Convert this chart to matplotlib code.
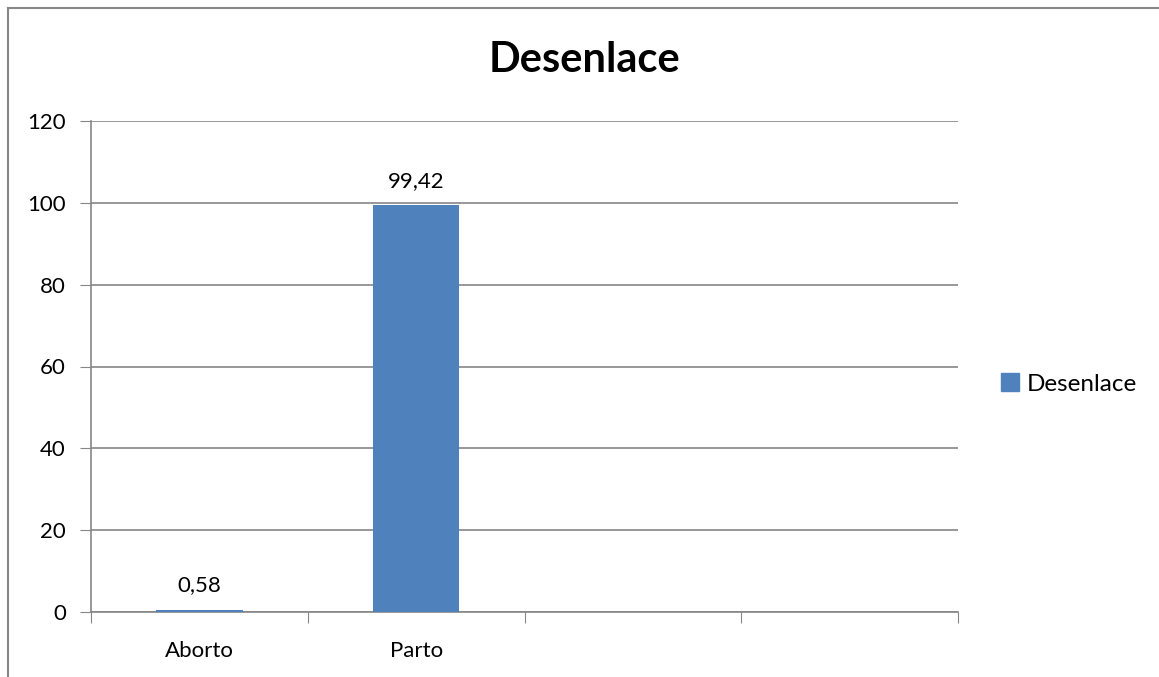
import matplotlib
matplotlib.use("Agg")
import matplotlib.pyplot as plt
from matplotlib.lines import Line2D
from matplotlib.patches import Patch

categories = ["Aborto", "Parto", "", ""]
values = [0.58, 99.42, None, None]
labels = ["0,58", "99,42"]
yticks = [0, 20, 40, 60, 80, 100, 120]

plt.rcParams['font.family'] = ['Lato', 'DejaVu Sans']

W, H = 1159, 677
fig = plt.figure(figsize=(W/100, H/100), dpi=100)
ax = fig.add_axes([91/W, 1-612/H, (958-91)/W, (612-121)/H])

grid_c = '#868686'
bar_c = '#4F81BD'
fs = 16

xs = list(range(len(categories)))
for i, v in enumerate(values):
    if v is not None:
        ax.bar(i, v, width=0.4, color=bar_c, zorder=3)
        ax.text(i, v + 3.5, labels[i], ha='center', va='bottom', fontsize=fs)

ax.set_xlim(-0.5, len(categories) - 0.5)
ax.set_ylim(0, 120)
ax.set_yticks(yticks)
ax.set_yticklabels([str(t) for t in yticks], fontsize=fs)
ax.set_xticks([x - 0.5 for x in xs] + [len(categories) - 0.5])
ax.set_xticklabels([])
ax.set_xticks(xs, minor=True)
ax.set_xticklabels(categories, minor=True, fontsize=fs)
ax.tick_params(axis='x', which='minor', length=0, pad=21)
ax.tick_params(axis='x', which='major', length=8, color=grid_c, direction='out')
ax.tick_params(axis='y', length=8, color=grid_c, direction='out', pad=10)
ax.grid(axis='y', color=grid_c, linewidth=1.2, zorder=0)
for s in ['top', 'right']:
    ax.spines[s].set_visible(False)
ax.spines['left'].set_color(grid_c)
ax.spines['bottom'].set_color(grid_c)
ax.spines['left'].set_linewidth(1.2)
ax.spines['bottom'].set_linewidth(1.2)

fig.text(585/W, 1-60/H, "Desenlace", ha='center', va='center', fontsize=30, fontweight='bold')

leg = fig.legend(handles=[Patch(color=bar_c, label="Desenlace")], loc='center left',
                 bbox_to_anchor=(1001/W, 1-384/H), frameon=False, fontsize=17.5,
                 handlelength=0.75, handleheight=0.75, handletextpad=0.3,
                 borderaxespad=0, borderpad=0)

# outer chart border (partially visible)
fig.add_artist(Line2D([8/W, 8/W], [0, 1-7.5/H], color=grid_c, linewidth=1.5))
fig.add_artist(Line2D([8/W, 1], [1-7.5/H, 1-7.5/H], color=grid_c, linewidth=1.5))

fig.savefig("out.png", dpi=100)
